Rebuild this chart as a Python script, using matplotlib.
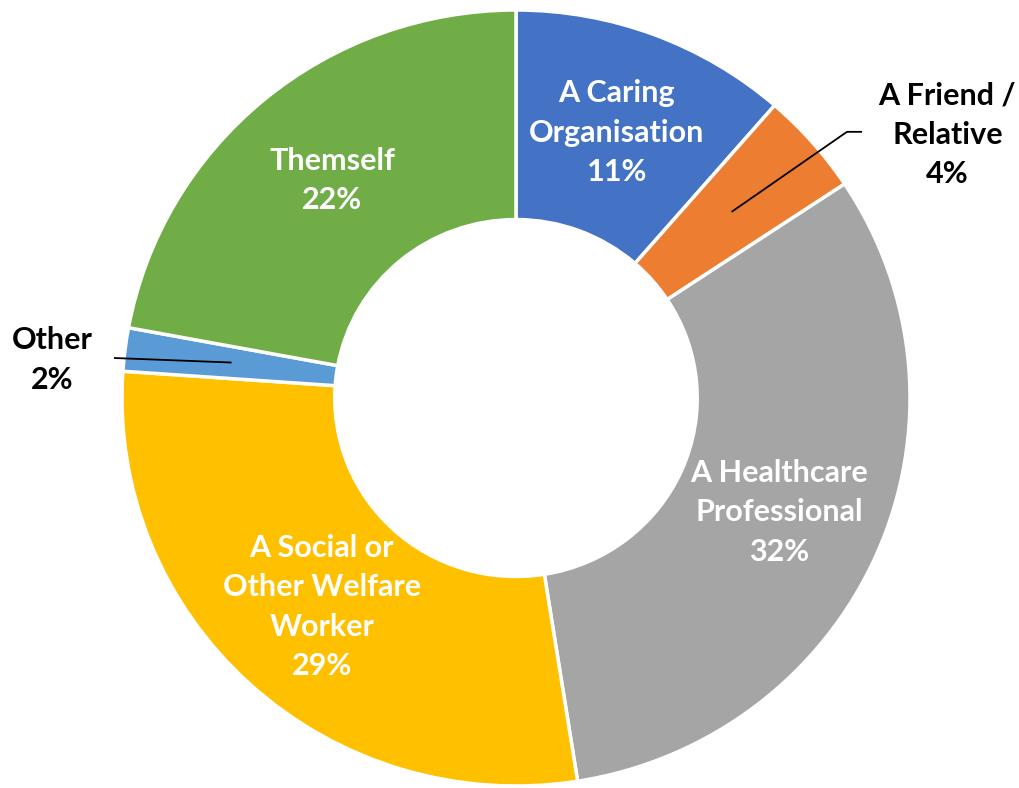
import numpy as np
import matplotlib.pyplot as plt

# ======== Data ========
labels = ["A Caring\nOrganisation", "A Friend /\nRelative", "A Healthcare\nProfessional",
          "A Social or\nOther Welfare\nWorker", "Other", "Themself"]
values = [11.4, 4.3, 31.8, 28.6, 1.8, 22.1]
shown_pct = [11, 4, 32, 29, 2, 22]
colors = ["#4472C4", "#ED7D31", "#A5A5A5", "#FFC000", "#5B9BD5", "#70AD47"]
outside = [False, True, False, False, True, False]
# ======================

plt.rcParams['font.family'] = ['Lato', 'DejaVu Sans']
fs = 22
ls = 1.5

fig = plt.figure(figsize=(10.2, 7.88), dpi=100)
ax = fig.add_axes([0, 0, 1, 1])

wedges, _ = ax.pie(values, colors=colors, startangle=90, counterclock=False,
                   radius=1.0, wedgeprops=dict(width=0.54, edgecolor="white", linewidth=2.5))

# pixel mapping: centre at (516, 398), radius 394 px wide, 388 px tall
ax.set_xlim(-516 / 394, (1020 - 516) / 394)
ax.set_ylim(-(788 - 398) / 388, 398 / 388)
ax.set_aspect("auto")
ax.axis("off")

r_lab = 0.73
for w, lab, pct, out in zip(wedges, labels, shown_pct, outside):
    mid = np.deg2rad((w.theta1 + w.theta2) / 2)
    x, y = r_lab * np.cos(mid), r_lab * np.sin(mid)
    txt = f"{lab}\n{pct}%"
    if not out:
        ax.text(x, y, txt, ha="center", va="center", color="white",
                fontsize=fs, fontweight="bold", linespacing=ls)
    else:
        if x > 0:
            # leader line with a short horizontal tail
            ax.plot([x, 0.84, 0.876], [y, 0.686, 0.686], color="black", lw=1.3)
            ax.text(1.095, 0.678, txt, ha="center", va="center", color="black",
                    fontsize=fs, fontweight="bold", linespacing=ls)
        else:
            ax.plot([x, -1.018], [y, 0.103], color="black", lw=1.3)
            ax.text(-1.178, 0.098, txt, ha="center", va="center", color="black",
                    fontsize=fs, fontweight="bold", linespacing=ls)

fig.savefig("out.png", dpi=100)
